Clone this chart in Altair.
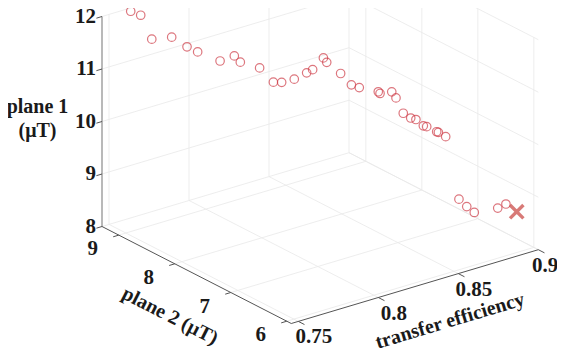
import altair as alt
import pandas as pd

# ---------------- data ----------------
efficiency = [0.7618, 0.7651, 0.7688, 0.7754, 0.7805, 0.7840, 0.7915, 0.7962, 0.7982, 0.8046,
              0.8092, 0.8119, 0.8161, 0.8202, 0.8222, 0.8258, 0.8269, 0.8315, 0.8351, 0.8377,
              0.8440, 0.8446, 0.8485, 0.8499, 0.8523, 0.8548, 0.8565, 0.8590, 0.8601, 0.8634,
              0.8640, 0.8664, 0.8708, 0.8734, 0.8759, 0.8837, 0.8864]
plane2 = [9.250, 9.166, 9.074, 8.907, 8.779, 8.689, 8.503, 8.383, 8.333, 8.171,
          8.057, 7.986, 7.881, 7.777, 7.727, 7.638, 7.610, 7.493, 7.404, 7.337,
          7.178, 7.164, 7.066, 7.030, 6.969, 6.907, 6.863, 6.802, 6.773, 6.689,
          6.676, 6.614, 6.503, 6.438, 6.375, 6.179, 6.110]
plane1 = [11.98, 11.92, 11.48, 11.55, 11.39, 11.31, 11.17, 11.29, 11.18, 11.10,
          10.85, 10.86, 10.94, 11.08, 11.15, 11.39, 11.31, 11.12, 10.92, 10.88,
          10.83, 10.80, 10.85, 10.74, 10.46, 10.38, 10.36, 10.25, 10.24, 10.16,
          10.15, 10.08, 8.91, 8.78, 8.68, 8.80, 8.89]
best_efficiency = [0.890]
best_plane2 = [6.02]
best_plane1 = [8.76]

eff_ticks = [0.75, 0.8, 0.85, 0.9]
eff_labels = ["0.75", "0.8", "0.85", "0.9"]
p2_ticks = [6, 7, 8, 9]
p2_labels = ["6", "7", "8", "9"]
p1_ticks = [8, 9, 10, 11, 12]
p1_labels = ["8", "9", "10", "11", "12"]

E_LIM = (0.7456, 0.9)
P2_LIM = (5.92, 9.3)
P1_LIM = (8.0, 12.0)

# ---------------- 3-D view (orthographic projection onto the page) ----------------
ORIGIN = (102.0, 226.5)     # page position of corner (E min, P2 max, P1 min)
E_VEC = (1600.0, -478.0)    # page shift per unit of efficiency
P2_VEC = (56.0, 28.7)       # page shift per unit decrease of plane 2
P1_VEC = (0.0, -52.5)       # page shift per unit of plane 1


def proj(e, p2, p1):
    de = e - E_LIM[0]
    dp = P2_LIM[1] - p2
    dz = p1 - P1_LIM[0]
    return (ORIGIN[0] + E_VEC[0] * de + P2_VEC[0] * dp + P1_VEC[0] * dz,
            ORIGIN[1] + E_VEC[1] * de + P2_VEC[1] * dp + P1_VEC[1] * dz)


def segs(pairs):
    rows = []
    for a, b in pairs:
        x, y = proj(*a)
        x2, y2 = proj(*b)
        rows.append({"x": x, "y": y, "x2": x2, "y2": y2})
    return pd.DataFrame(rows)


e0, e1 = E_LIM
q0, q1 = P2_LIM
z0, z1 = P1_LIM

grid_pairs = []
for e in eff_ticks:
    grid_pairs.append(((e, q1, z0), (e, q1, z1)))   # back wall plane2 = max
    grid_pairs.append(((e, q0, z0), (e, q1, z0)))   # floor
for p in p2_ticks:
    grid_pairs.append(((e1, p, z0), (e1, p, z1)))   # back wall efficiency = max
    grid_pairs.append(((e0, p, z0), (e1, p, z0)))   # floor
for z in p1_ticks:
    grid_pairs.append(((e0, q1, z), (e1, q1, z)))
    grid_pairs.append(((e1, q0, z), (e1, q1, z)))
grid_df = segs(grid_pairs)

zaxis_df = segs([((e0, q1, z0), (e0, q1, z1))])
axis_df = segs([
    ((e0, q1, z0), (e0, q0, z0)),
    ((e0, q0, z0), (e1, q0, z0)),
])

tick_pairs = []
for p in p2_ticks:
    tick_pairs.append(((e0, p, z0), (e0 - 0.0035, p, z0)))
for e in eff_ticks:
    tick_pairs.append(((e, q0, z0), (e, q0 - 0.11, z0)))
for z in p1_ticks:
    tick_pairs.append(((e0, q1, z), (e0 - 0.0035, q1, z)))
tick_df = segs(tick_pairs)

pts = pd.DataFrame([dict(zip(("x", "y"), proj(e, p, z)))
                    for e, p, z in zip(efficiency, plane2, plane1)])
best = pd.DataFrame([dict(zip(("x", "y"), proj(e, p, z)))
                     for e, p, z in zip(best_efficiency, best_plane2, best_plane1)])


def label_df(points, texts, shift=(0.0, 0.0), xmax=None):
    rows = []
    for pt, t in zip(points, texts):
        x, y = proj(*pt)
        x, y = x + shift[0], y + shift[1]
        if xmax is not None:
            x = min(x, xmax)
        rows.append({"x": x, "y": y, "t": t})
    return pd.DataFrame(rows)


W, H = 549, 343
z_lab = label_df([(e0, q1, z) for z in p1_ticks], p1_labels, shift=(-6, 0))
p2_lab = label_df([(e0, p, z0) for p in p2_ticks], p2_labels, shift=(-26, 14))
# keep the last label inside the page
e_lab = label_df([(e, q0, z0) for e in eff_ticks], eff_labels, shift=(15.5, 16), xmax=8 + W - 12)

titles = pd.DataFrame([
    {"x": 37.5, "y": 107, "t": "plane 1", "a": 0},
    {"x": 37.5, "y": 131, "t": "(\u03bcT)", "a": 0},
    {"x": 170, "y": 316, "t": "plane 2  (\u03bcT)", "a": 27},
    {"x": 450, "y": 321, "t": "transfer efficiency", "a": 343.4},
])

# ---------------- chart ----------------
X = alt.X("x:Q", scale=alt.Scale(domain=[8, 8 + W], nice=False, zero=False), axis=None)
Y = alt.Y("y:Q", scale=alt.Scale(domain=[8, 8 + H], nice=False, zero=False, reverse=True), axis=None)

FONT = "Liberation Serif"

grid = alt.Chart(grid_df).mark_rule(color="#e8e8e8", strokeWidth=0.8).encode(
    x=X, y=Y, x2="x2:Q", y2="y2:Q")
zaxis = alt.Chart(zaxis_df).mark_rule(color="#8a8a8a", strokeWidth=1.2).encode(
    x=X, y=Y, x2="x2:Q", y2="y2:Q")
axes = alt.Chart(axis_df).mark_rule(color="#555555", strokeWidth=1).encode(
    x=X, y=Y, x2="x2:Q", y2="y2:Q")
ticks = alt.Chart(tick_df).mark_rule(color="#555555", strokeWidth=1).encode(
    x=X, y=Y, x2="x2:Q", y2="y2:Q")

circles = alt.Chart(pts).mark_point(
    shape="circle", filled=False, size=72, strokeWidth=1.2, color="#cf3d48"
).encode(x=X, y=Y)

cross = alt.Chart(best).mark_point(
    shape="M-1,-1L1,1M-1,1L1,-1", filled=False, size=180, strokeWidth=3.4, color="#c8423e"
).encode(x=X, y=Y)

tick_txt = dict(font=FONT, fontWeight="bold", fontSize=21, color="#1a1a1a")
title_txt = dict(font=FONT, fontWeight="bold", fontSize=20, color="#1a1a1a")
z_text = alt.Chart(z_lab).mark_text(align="right", baseline="middle", **tick_txt).encode(
    x=X, y=Y, text="t:N")
p2_text = alt.Chart(p2_lab).mark_text(align="center", baseline="middle", **tick_txt).encode(
    x=X, y=Y, text="t:N")
e_text = alt.Chart(e_lab).mark_text(align="center", baseline="middle", **tick_txt).encode(
    x=X, y=Y, text="t:N")
title_text = alt.Chart(titles).mark_text(align="center", baseline="middle", **title_txt).encode(
    x=X, y=Y, text="t:N", angle=alt.Angle("a:Q", scale=None))

chart = alt.layer(grid, zaxis, axes, ticks, circles, cross, z_text, p2_text, e_text, title_text).properties(
    width=W, height=H, padding=0, autosize="none", background="white"
).configure_view(stroke=None)

chart.save("out.html", embed_options={"renderer": "svg", "actions": False})
